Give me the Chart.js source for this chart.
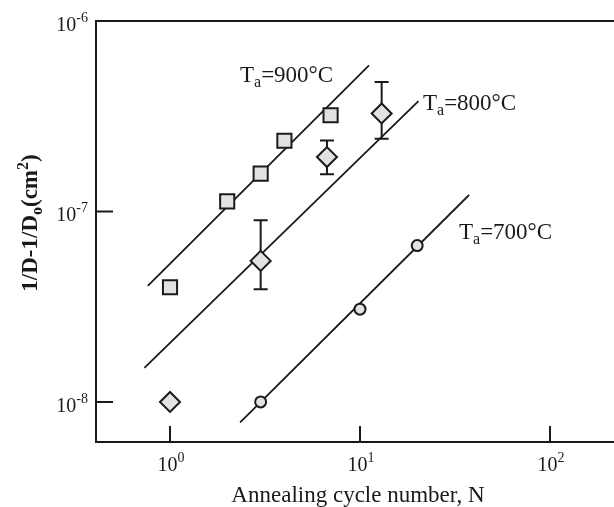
<!DOCTYPE html>
<html>
<head>
<meta charset="utf-8">
<script src="https://cdn.jsdelivr.net/npm/chart.js@4.4.1/dist/chart.umd.min.js"></script>
<style>
  body { margin: 0; background: #fff; }
  canvas { display: block; }
</style>
</head>
<body>
<canvas id="chart" width="614" height="507"></canvas>
<script>
// measured points, N = annealing cycles, D = 1/D - 1/Do (cm^2)
const n900 = [1, 2, 3, 4, 7];
const d900 = [4.0e-8, 1.13e-7, 1.58e-7, 2.35e-7, 3.2e-7];

const n800 = [1, 3, 6.7, 13];
const d800 = [1.0e-8, 5.5e-8, 1.93e-7, 3.27e-7];
const d800Lo = [null, 3.9e-8, 1.57e-7, 2.41e-7];
const d800Hi = [null, 9.0e-8, 2.36e-7, 4.79e-7];

const n700 = [3, 10, 20];
const d700 = [1.0e-8, 3.07e-8, 6.62e-8];

// fitted lines (end points)
const fit900N = [0.764, 11.15];
const fit900D = [4.07e-8, 5.85e-7];
const fit800N = [0.733, 20.3];
const fit800D = [1.51e-8, 3.8e-7];
const fit700N = [2.34, 37.5];
const fit700D = [7.8e-9, 1.22e-7];

// axis ticks
const xTicks = [1, 10, 100];
const yTicks = [1e-8, 1e-7, 1e-6];

const serif = '"Liberation Serif", "Times New Roman", serif';
const ink = '#1a1a1a';
const fill = '#e2e2e2';

function pts(xs, ys) {
  return xs.map((x, i) => ({ x: x, y: ys[i] }));
}

// text with sub/superscript parts: [text, size, dy]
function drawParts(ctx, parts, x, y, align, bold) {
  let w = 0;
  parts.forEach(p => {
    ctx.font = (bold ? 'bold ' : '') + p[1] + 'px ' + serif;
    w += ctx.measureText(p[0]).width;
  });
  let cx = align === 'right' ? x - w : align === 'center' ? x - w / 2 : x;
  ctx.textAlign = 'left';
  ctx.textBaseline = 'alphabetic';
  parts.forEach(p => {
    ctx.font = (bold ? 'bold ' : '') + p[1] + 'px ' + serif;
    ctx.fillText(p[0], cx, y + p[2]);
    cx += ctx.measureText(p[0]).width;
  });
}

function tempLabel(t) {
  return [['T', 23, 0], ['a', 16, 5], ['=' + t + '\u00B0C', 23, 0]];
}

function expLabel(v) {
  return [['10', 20, 0], [String(Math.round(Math.log10(v))), 14, -9]];
}

const decorations = {
  id: 'decorations',
  beforeDatasetsDraw(chart) {
    const ctx = chart.ctx;
    const xs = chart.scales.x, ys = chart.scales.y;
    ctx.save();
    ctx.strokeStyle = ink;
    ctx.lineWidth = 2;
    n800.forEach((n, i) => {
      if (d800Lo[i] == null) return;
      const px = xs.getPixelForValue(n);
      const lo = ys.getPixelForValue(d800Lo[i]);
      const hi = ys.getPixelForValue(d800Hi[i]);
      ctx.beginPath();
      ctx.moveTo(px, lo); ctx.lineTo(px, hi);
      ctx.moveTo(px - 7, lo); ctx.lineTo(px + 7, lo);
      ctx.moveTo(px - 7, hi); ctx.lineTo(px + 7, hi);
      ctx.stroke();
    });
    ctx.restore();
  },
  afterDraw(chart) {
    const ctx = chart.ctx;
    const a = chart.chartArea;
    const xs = chart.scales.x, ys = chart.scales.y;
    ctx.save();
    ctx.strokeStyle = ink;
    ctx.fillStyle = ink;
    ctx.lineWidth = 2;

    // frame: left, top, bottom
    ctx.beginPath();
    ctx.moveTo(a.right, a.top); ctx.lineTo(a.left, a.top);
    ctx.lineTo(a.left, a.bottom); ctx.lineTo(a.right, a.bottom);
    ctx.stroke();

    // inward ticks
    ctx.beginPath();
    xTicks.forEach(v => {
      const px = xs.getPixelForValue(v);
      ctx.moveTo(px, a.bottom); ctx.lineTo(px, a.bottom - 16);
    });
    yTicks.forEach(v => {
      const py = ys.getPixelForValue(v);
      ctx.moveTo(a.left, py); ctx.lineTo(a.left + 17, py);
    });
    ctx.stroke();

    // tick labels
    xTicks.forEach(v => {
      drawParts(ctx, expLabel(v), xs.getPixelForValue(v) + 1, a.bottom + 29, 'center');
    });
    yTicks.forEach(v => {
      drawParts(ctx, expLabel(v), a.left - 8, ys.getPixelForValue(v) + 10, 'right');
    });

    // axis titles
    ctx.font = '23px ' + serif;
    ctx.textAlign = 'center';
    ctx.textBaseline = 'alphabetic';
    ctx.fillText('Annealing cycle number, N', 358, 502);

    ctx.save();
    ctx.translate(37, 223);
    ctx.rotate(-Math.PI / 2);
    drawParts(ctx, [['1/D-1/D', 23, 0], ['o', 16, 5], ['(cm', 23, 0], ['2', 16, -9], [')', 23, 0]], 0, 0, 'center', true);
    ctx.restore();

    // series labels
    drawParts(ctx, tempLabel(900), 240, 82, 'left');
    drawParts(ctx, tempLabel(800), 423, 110, 'left');
    drawParts(ctx, tempLabel(700), 459, 239, 'left');
    ctx.restore();
  }
};

function fitLine(xs, ys, order) {
  return {
    type: 'line',
    data: pts(xs, ys),
    showLine: true,
    borderColor: ink,
    borderWidth: 1.8,
    pointRadius: 0,
    fill: false,
    order: order
  };
}

function markers(xs, ys, style, radius, order) {
  return {
    type: 'scatter',
    data: pts(xs, ys),
    pointStyle: style,
    pointRadius: radius,
    pointBackgroundColor: fill,
    pointBorderColor: ink,
    pointBorderWidth: 2,
    order: order
  };
}

new Chart(document.getElementById('chart'), {
  type: 'scatter',
  data: {
    datasets: [
      markers(n900, d900, 'rect', 10, 1),
      markers(n800, d800, 'rectRot', 10, 1),
      markers(n700, d700, 'circle', 5.5, 1),
      fitLine(fit900N, fit900D, 2),
      fitLine(fit800N, fit800D, 2),
      fitLine(fit700N, fit700D, 2)
    ]
  },
  options: {
    responsive: false,
    animation: false,
    devicePixelRatio: 1,
    layout: { autoPadding: false, padding: { left: 96, top: 21, right: 0, bottom: 65 } },
    plugins: { legend: { display: false }, tooltip: { enabled: false } },
    scales: {
      x: { type: 'logarithmic', display: false, min: 0.4078, max: 217.2 },
      y: { type: 'logarithmic', display: false, min: 6.16e-9, max: 1e-6 }
    }
  },
  plugins: [decorations]
});
</script>
</body>
</html>
